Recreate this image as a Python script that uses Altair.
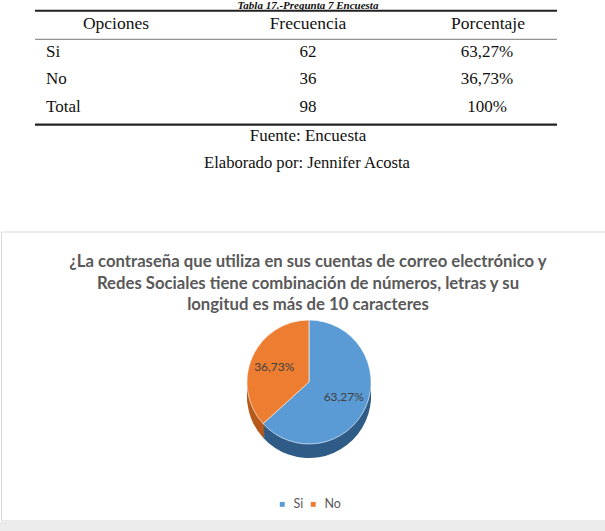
import altair as alt
import pandas as pd

# ---------------- data ----------------
tabla_titulo = "Tabla 17.-Pregunta 7 Encuesta"
encabezados = ["Opciones", "Frecuencia", "Porcentaje"]
opciones = ["Si", "No", "Total"]
frecuencia = [62, 36, 98]
porcentaje = ["63,27%", "36,73%", "100%"]
notas = ["Fuente: Encuesta", "Elaborado por: Jennifer Acosta"]
titulo_grafico = [
    "¿La contraseña que utiliza en sus cuentas de correo electrónico y",
    "Redes Sociales tiene combinación de números, letras y su",
    "longitud es más de 10 caracteres",
]
categorias = ["Si", "No"]
valores = [63.27, 36.73]
etiquetas = ["63,27%", "36,73%"]

colores = ["#5B9BD5", "#ED7D31"]
colores_lado = ["#2F5C87", "#B65A1C"]

W, H = 605, 531
SERIF = "Liberation Serif"
SANS = "Lato"

filas = ["Encabezado"] + opciones
yscale = alt.Scale(type="point", domain=filas, range=[24, 107], padding=0)

def columna(textos, filas_col, x, align, size=17):
    df = pd.DataFrame({"fila": filas_col, "texto": textos})
    return alt.Chart(df).mark_text(font=SERIF, fontSize=size, color="#111111", align=align, baseline="middle").encode(
        x=alt.value(x),
        y=alt.Y("fila:N", scale=yscale, axis=None),
        text="texto:N",
    )

# table
cabecera = [columna([encabezados[0]], ["Encabezado"], 116, "center", 17.5),
            columna([encabezados[1]], ["Encabezado"], 308, "center", 17.5),
            columna([encabezados[2]], ["Encabezado"], 488, "center", 17.5)]
cuerpo = [columna(opciones, opciones, 46, "left"),
          columna([str(v) for v in frecuencia], opciones, 308, "center"),
          columna(porcentaje, opciones, 487, "center")]

def regla(y, w, color):
    return alt.Chart(pd.DataFrame({"a": [0]})).mark_rule(color=color, strokeWidth=w).encode(
        x=alt.value(35), x2=alt.value(557), y=alt.value(y))

reglas = [regla(10.7, 2, "#222222"), regla(39.3, 1, "#777777"), regla(124.7, 2.2, "#222222")]

titulo_tabla = alt.Chart(pd.DataFrame({"t": [tabla_titulo]})).mark_text(
    font=SERIF, fontSize=11, fontWeight="bold", fontStyle="italic", color="#111111",
    align="center", baseline="alphabetic").encode(x=alt.value(308), y=alt.value(8.5), text="t:N")

nota1 = alt.Chart(pd.DataFrame({"t": [notas[0]]})).mark_text(
    font=SERIF, fontSize=17, color="#111111", align="center", baseline="middle").encode(
    x=alt.value(308), y=alt.value(136), text="t:N")
nota2 = alt.Chart(pd.DataFrame({"t": [notas[1]]})).mark_text(
    font=SERIF, fontSize=16.6, color="#111111", align="center", baseline="middle").encode(
    x=alt.value(307), y=alt.value(163), text="t:N")

# chart box
caja = alt.Chart(pd.DataFrame({"a": [0]})).mark_rect(fill="white", stroke="#d9d9d9", strokeWidth=1).encode(
    x=alt.value(1.5), x2=alt.value(606), y=alt.value(232), y2=alt.value(521))
franja = alt.Chart(pd.DataFrame({"a": [0]})).mark_rect(fill="#ececec").encode(
    x=alt.value(0), x2=alt.value(605), y=alt.value(522), y2=alt.value(531))

titulo = alt.Chart(pd.DataFrame({"a": [0]})).mark_text(
    font=SANS, fontSize=16.7, fontWeight="bold", color="#595959", align="center",
    baseline="middle", lineHeight=21.7).encode(
    x=alt.value(308), y=alt.value(262), text=alt.value(titulo_grafico))

# pie
pie_df = pd.DataFrame({"cat": categorias, "val": valores, "lab": etiquetas, "ord": [0, 1]})
CX, CY, R = 309, 382, 62
base = alt.Chart(pie_df).encode(
    theta=alt.Theta("val:Q", stack=True),
    order=alt.Order("ord:Q"),
)
lados = []
for dy in [14, 11, 8, 5, 2]:
    lados.append(base.mark_arc(outerRadius=R).encode(
        x=alt.value(CX), y=alt.value(CY + dy),
        color=alt.Color("cat:N", scale=alt.Scale(domain=categorias, range=colores_lado), legend=None)))

tapa = base.mark_arc(outerRadius=R, stroke="white", strokeWidth=0.6).encode(
    x=alt.value(CX), y=alt.value(CY),
    color=alt.Color("cat:N", scale=alt.Scale(domain=categorias, range=colores),
                    legend=alt.Legend(title=None, orient="none", legendX=276, legendY=498,
                                      direction="horizontal", symbolType="square", symbolSize=24,
                                      symbolStrokeWidth=0, labelFont=SANS, labelFontSize=12.5,
                                      labelColor="#595959", columnPadding=3, labelOffset=5)),
)
textos = base.mark_text(radius=38, font=SANS, fontSize=12, color="#404040").encode(
    x=alt.value(CX), y=alt.value(CY), text="lab:N")

chart = alt.layer(
    caja, franja, titulo_tabla, *reglas, *cabecera, *cuerpo, nota1, nota2, titulo,
    *lados, tapa, textos
).resolve_scale(color="independent").properties(
    width=W, height=H, padding=0, autosize=alt.AutoSizeParams(type="none"),
    background="white"
).configure_view(stroke=None)

chart.save("out.html", embed_options={"renderer": "svg", "actions": False})
